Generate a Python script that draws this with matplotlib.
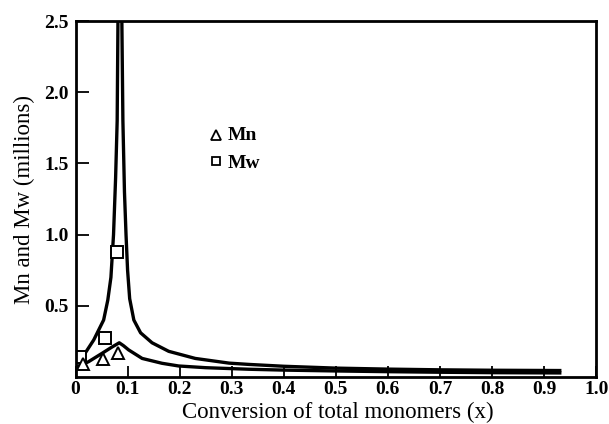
import matplotlib
matplotlib.use('Agg')
import matplotlib.pyplot as plt

plt.rcParams['font.family'] = ['Liberation Serif', 'DejaVu Serif']

# Data

# Mw model curve (spikes off the top near x = 0.085)
mw_x = [0.002, 0.019, 0.035, 0.054, 0.062, 0.068, 0.073, 0.077, 0.080, 0.0815,
        0.084, 0.0865, 0.089, 0.091, 0.094, 0.097, 0.100, 0.104, 0.112, 0.125,
        0.147, 0.179, 0.23, 0.295, 0.333, 0.4, 0.5, 0.6, 0.7, 0.8, 0.93]
mw_y = [0.107, 0.17, 0.26, 0.40, 0.54, 0.70, 1.00, 1.40, 1.80, 2.50,
        3.50, 3.50, 2.50, 1.80, 1.30, 1.00, 0.75, 0.55, 0.40, 0.31,
        0.24, 0.18, 0.13, 0.097, 0.088, 0.075, 0.062, 0.055, 0.050, 0.047, 0.045]

# Mn model curve
mn_x = [0.002, 0.025, 0.051, 0.070, 0.084, 0.092, 0.102, 0.128, 0.166, 0.198,
        0.25, 0.333, 0.4, 0.5, 0.6, 0.7, 0.8, 0.93]
mn_y = [0.07, 0.107, 0.166, 0.21, 0.24, 0.22, 0.19, 0.13, 0.096, 0.077,
        0.065, 0.054, 0.048, 0.042, 0.037, 0.033, 0.030, 0.028]

# measured points
mw_pts_x = [0.009, 0.056, 0.079]
mw_pts_y = [0.138, 0.276, 0.877]
mn_pts_x = [0.015, 0.053, 0.081]
mn_pts_y = [0.089, 0.124, 0.17]

x_ticks = [0, 0.1, 0.2, 0.3, 0.4, 0.5, 0.6, 0.7, 0.8, 0.9, 1.0]
x_labels = ['0', '0.1', '0.2', '0.3', '0.4', '0.5', '0.6', '0.7', '0.8', '0.9', '1.0']
y_ticks = [0.5, 1.0, 1.5, 2.0, 2.5]
y_labels = ['0.5', '1.0', '1.5', '2.0', '2.5']

fig = plt.figure(figsize=(6.09, 4.24), dpi=100)
ax = fig.add_axes([0.124, 0.111, 0.855, 0.839])

ax.plot(mw_x, mw_y, color='black', lw=2.4, solid_joinstyle='round')
ax.plot(mn_x, mn_y, color='black', lw=2.4, solid_joinstyle='round')

ax.plot(mw_pts_x, mw_pts_y, ls='none', marker='s', ms=8, mfc='white',
        mec='black', mew=1.4)
ax.plot(mn_pts_x, mn_pts_y, ls='none', marker='^', ms=8, mfc='white',
        mec='black', mew=1.4)

# hand-made key
ax.plot([0.270], [1.70], ls='none', marker='^', ms=7, mfc='white', mec='black', mew=1.3)
ax.plot([0.270], [1.515], ls='none', marker='s', ms=6, mfc='white', mec='black', mew=1.3)
ax.text(0.293, 1.70, 'Mn', fontsize=14, fontweight='bold', va='center', ha='left')
ax.text(0.293, 1.50, 'Mw', fontsize=14, fontweight='bold', va='center', ha='left')

ax.set_xlim(0, 1.0)
ax.set_ylim(0, 2.5)
ax.set_xticks(x_ticks)
ax.set_xticklabels(x_labels, fontsize=14, fontweight='bold')
ax.set_yticks(y_ticks)
ax.set_yticklabels(y_labels, fontsize=14, fontweight='bold')
ax.tick_params(axis='x', direction='in', length=8, width=1.3, pad=3)
ax.tick_params(axis='y', direction='in', length=9, width=1.3, pad=5)

for s in ax.spines.values():
    s.set_linewidth(2)

fig.text(0.554, 0.013, 'Conversion of total monomers (x)', fontsize=16.5,
         ha='center', va='baseline')
fig.text(0.040, 0.529, 'Mn and Mw (millions)', fontsize=16.5, rotation=90,
         ha='center', va='center')

fig.savefig('out.png', dpi=100)
